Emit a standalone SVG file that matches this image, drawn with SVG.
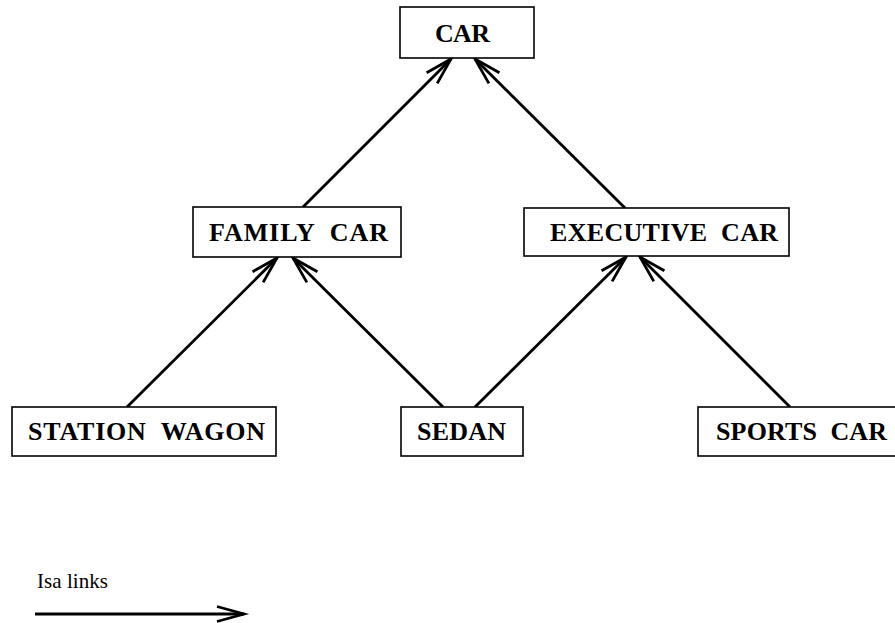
<svg xmlns="http://www.w3.org/2000/svg" width="895" height="623" viewBox="0 0 895 623">
  <style>
    .box { fill: #fff; stroke: #000; stroke-width: 1.6; }
    .label { font-family: "Liberation Serif", "Times New Roman", serif; font-weight: bold; font-size: 26px; fill: #000; }
    .note { font-family: "Liberation Serif", "Times New Roman", serif; font-size: 21px; fill: #000; }
    .link { stroke: #000; stroke-width: 2.8; fill: none; marker-end: url(#head); }
  </style>
  <defs>
    <marker id="head" markerUnits="userSpaceOnUse" viewBox="-30 -10 34 20" refX="0" refY="0" markerWidth="34" markerHeight="20" orient="auto" overflow="visible">
      <path d="M -27 -7.5 L 0 0 L -27 7.5" fill="none" stroke="#000" stroke-width="2.8" stroke-linejoin="miter"/>
    </marker>
  </defs>
  <rect width="895" height="623" fill="#fff"/>

  <!-- isa links -->
  <g id="connectors">
    <line class="link" x1="303" y1="207" x2="451" y2="59"/>
    <line class="link" x1="625" y1="208" x2="475" y2="59"/>
    <line class="link" x1="127" y1="407" x2="277" y2="258"/>
    <line class="link" x1="443" y1="407" x2="293" y2="258"/>
    <line class="link" x1="475" y1="407" x2="626" y2="257"/>
    <line class="link" x1="790" y1="407" x2="640" y2="257"/>
  </g>

  <g id="car">
    <rect class="box" x="400" y="7" width="134" height="51"/>
    <text class="label" x="435" y="42" textLength="55">CAR</text>
  </g>
  <g id="family-car">
    <rect class="box" x="193" y="207" width="208" height="50"/>
    <text class="label" x="209" y="241" textLength="179" xml:space="preserve">FAMILY  CAR</text>
  </g>
  <g id="executive-car">
    <rect class="box" x="524" y="208" width="265" height="48"/>
    <text class="label" x="550" y="241" textLength="228" xml:space="preserve">EXECUTIVE  CAR</text>
  </g>
  <g id="station-wagon">
    <rect class="box" x="12" y="407" width="264" height="49"/>
    <text class="label" x="28" y="440" textLength="237" xml:space="preserve">STATION  WAGON</text>
  </g>
  <g id="sedan">
    <rect class="box" x="401" y="407" width="122" height="49"/>
    <text class="label" x="417" y="440" textLength="89">SEDAN</text>
  </g>
  <g id="sports-car">
    <rect class="box" x="698" y="407" width="210" height="49"/>
    <text class="label" x="716" y="440" textLength="171" xml:space="preserve">SPORTS  CAR</text>
  </g>

  <!-- legend -->
  <g id="legend">
    <text class="note" x="37" y="588" textLength="71">Isa links</text>
    <line class="link" x1="35" y1="614" x2="244" y2="614"/>
  </g>
</svg>
